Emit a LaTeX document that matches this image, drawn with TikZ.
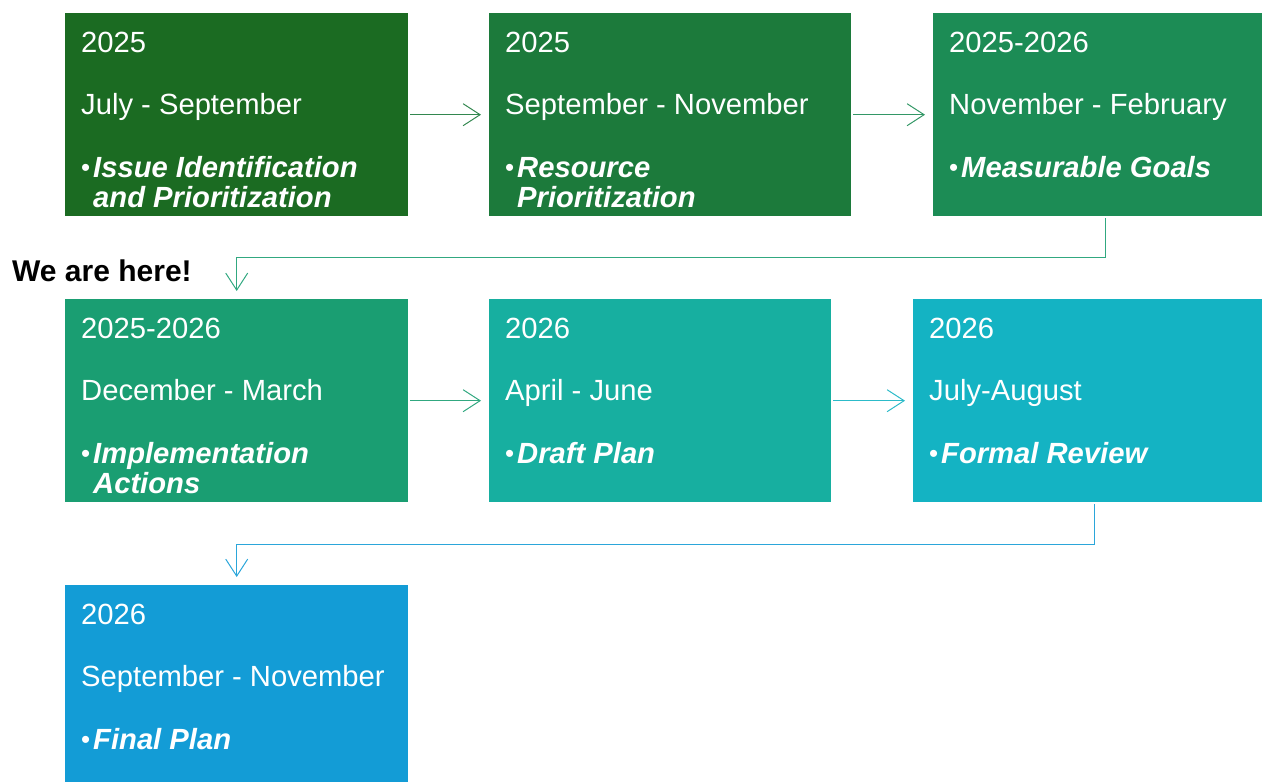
\documentclass[tikz,border=0pt]{standalone}
\usepackage{fontspec}
\setmainfont{Liberation Sans}
\usepackage{tikz}
\usetikzlibrary{calc,positioning,arrows.meta}
\definecolor{phaseA}{HTML}{1B6B22}
\definecolor{phaseB}{HTML}{1C7A3B}
\definecolor{phaseC}{HTML}{1C8C55}
\definecolor{phaseD}{HTML}{1A9E72}
\definecolor{phaseE}{HTML}{17AFA0}
\definecolor{phaseF}{HTML}{14B3C3}
\definecolor{phaseG}{HTML}{139CD6}
\newcommand{\phasetask}[1]{\textbf{\textit{#1}}}
\newcommand{\phasebullet}{\makebox[12pt][l]{\raisebox{1pt}{\fontsize{26}{26}\selectfont•}}}

\begin{document}
\begin{tikzpicture}[x=1pt,y=-1pt]

\tikzset{
phase/.style={rectangle,anchor=north west,inner sep=0pt,minimum height=203pt},
txt/.style={anchor=base west,inner sep=0pt,text=white,font=\fontsize{29.2}{30}\selectfont},
link/.style={-{Straight Barb[length=17pt,width=22pt]},line width=1pt,shorten <=2pt,shorten >=8pt}
}

\useasboundingbox (0,0) rectangle (1262,782);

% Boxes
\node[phase,fill=phaseA,minimum width=343pt] (box1) at (65,13) {};
\node[phase,fill=phaseB,minimum width=362pt] (box2) at (489,13) {};
\node[phase,fill=phaseC,minimum width=329pt] (box3) at (933,13) {};

\node[phase,fill=phaseD,minimum width=343pt] (box4) at (65,299) {};
\node[phase,fill=phaseE,minimum width=342pt] (box5) at (489,299) {};
\node[phase,fill=phaseF,minimum width=349pt] (box6) at (913,299) {};

\node[phase,fill=phaseG,minimum width=343pt,minimum height=197pt] (box7) at (65,585) {};


% Texts
\node[txt] (yr1) at ($(box1.north west)+(16,39)$) {2025};
\node[txt] (mon1) at ($(box1.north west)+(16,101)$) {July - September};
\node[txt] (task1) at ($(box1.north west)+(16,164)$) {\phasebullet\phasetask{Issue Identification}};
\node[txt] (task1b) at ($(box1.north west)+(28,194)$) {\phasetask{and Prioritization}};

\node[txt] (yr2) at ($(box2.north west)+(16,39)$) {2025};
\node[txt] (mon2) at ($(box2.north west)+(16,101)$) {September - November};
\node[txt] (task2) at ($(box2.north west)+(16,164)$) {\phasebullet\phasetask{Resource}};
\node[txt] (task2b) at ($(box2.north west)+(28,194)$) {\phasetask{Prioritization}};

\node[txt] (yr3) at ($(box3.north west)+(16,39)$) {2025-2026};
\node[txt] (mon3) at ($(box3.north west)+(16,101)$) {November - February};
\node[txt] (task3) at ($(box3.north west)+(16,164)$) {\phasebullet\phasetask{Measurable Goals}};

\node[txt] (yr4) at ($(box4.north west)+(16,39)$) {2025-2026};
\node[txt] (mon4) at ($(box4.north west)+(16,101)$) {December - March};
\node[txt] (task4) at ($(box4.north west)+(16,164)$) {\phasebullet\phasetask{Implementation}};
\node[txt] (task4b) at ($(box4.north west)+(28,194)$) {\phasetask{Actions}};

\node[txt] (yr5) at ($(box5.north west)+(16,39)$) {2026};
\node[txt] (mon5) at ($(box5.north west)+(16,101)$) {April - June};
\node[txt] (task5) at ($(box5.north west)+(16,164)$) {\phasebullet\phasetask{Draft Plan}};

\node[txt] (yr6) at ($(box6.north west)+(16,39)$) {2026};
\node[txt] (mon6) at ($(box6.north west)+(16,101)$) {July-August};
\node[txt] (task6) at ($(box6.north west)+(16,164)$) {\phasebullet\phasetask{Formal Review}};

\node[txt] (yr7) at ($(box7.north west)+(16,39)$) {2026};
\node[txt] (mon7) at ($(box7.north west)+(16,101)$) {September - November};
\node[txt] (task7) at ($(box7.north west)+(16,164)$) {\phasebullet\phasetask{Final Plan}};


% Arrows
\draw[link,draw=phaseB!90] (box1.east) -- (box2.west);
\draw[link,draw=phaseC!90] (box2.east) -- (box3.west);
\draw[link,draw=phaseD!90] ([xshift=7.5pt]box3.south) -- ++(0,41) -| (box4.north);

\draw[link,draw=phaseD!90] (box4.east) -- (box5.west);
\draw[link,draw=phaseF!90] (box5.east) -- (box6.west);
\draw[link,draw=phaseG!90] ([xshift=6.5pt]box6.south) -- ++(0,42) -| (box7.north);


% Labels
\node[anchor=base west,inner sep=0pt,font=\bfseries\fontsize{30}{30}\selectfont] (here) at (12,281) {We are here!};

\end{tikzpicture}
\end{document}
